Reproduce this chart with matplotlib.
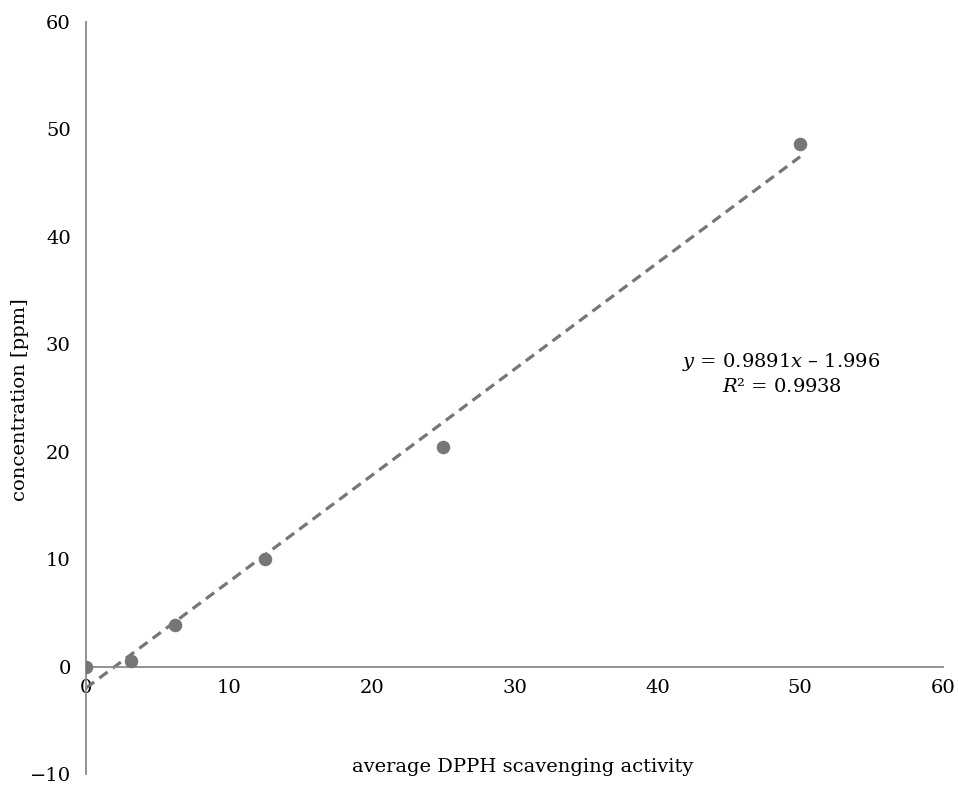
import numpy as np
import matplotlib
matplotlib.use("Agg")
import matplotlib.pyplot as plt

activity = [0.0, 3.125, 6.25, 12.5, 25.0, 50.0]
concentration = [0.0, 0.5, 3.9, 10.0, 20.4, 48.6]

# linear trendline as printed on the chart
slope, intercept = 0.9891, -1.996
r_squared = 0.9938

x_ticks = [0, 10, 20, 30, 40, 50, 60]
y_ticks = [-10, 0, 10, 20, 30, 40, 50, 60]

point_color = "#767676"
axis_color = "#8a8a8a"

plt.rcParams["font.family"] = ["DejaVu Serif"]
plt.rcParams["mathtext.fontset"] = "dejavuserif"
plt.rcParams["font.size"] = 14

fig = plt.figure(figsize=(9.58, 7.86), dpi=100)
ax = fig.add_axes([86 / 958, 12 / 786, 857 / 958, 752 / 786])

ax.scatter(activity, concentration, s=95, color=point_color, zorder=3, linewidths=0)
xx = np.array([min(activity), max(activity)])
ax.plot(xx, slope * xx + intercept, color=point_color, lw=2.3,
        dashes=(3.2, 2.0), zorder=2)

ax.set_xlim(0, 60)
ax.set_ylim(-10, 60)
ax.set_xticks(x_ticks)
ax.set_yticks(y_ticks)
ax.set_yticklabels(["\u221210"] + [str(t) for t in y_ticks[1:]])

for side in ("top", "right"):
    ax.spines[side].set_visible(False)
ax.spines["left"].set_position(("data", 0))
ax.spines["bottom"].set_position(("data", 0))
for side in ("left", "bottom"):
    ax.spines[side].set_color(axis_color)
    ax.spines[side].set_linewidth(1.3)
ax.tick_params(axis="y", length=0, pad=11)
ax.tick_params(axis="x", length=0, pad=9)

ax.text(48.7, 27.3,
        f"$y$ = {slope}$x$ \u2013 {abs(intercept)}\n$R$\u00b2 = {r_squared}",
        ha="center", va="center", linespacing=1.35)

fig.text(523 / 958, 1 - 767 / 786, "average DPPH scavenging activity",
         ha="center", va="center")
fig.text(20 / 958, 1 - 400 / 786, "concentration [ppm]", rotation=90,
         ha="center", va="center")

fig.savefig("out.png", dpi=100)
